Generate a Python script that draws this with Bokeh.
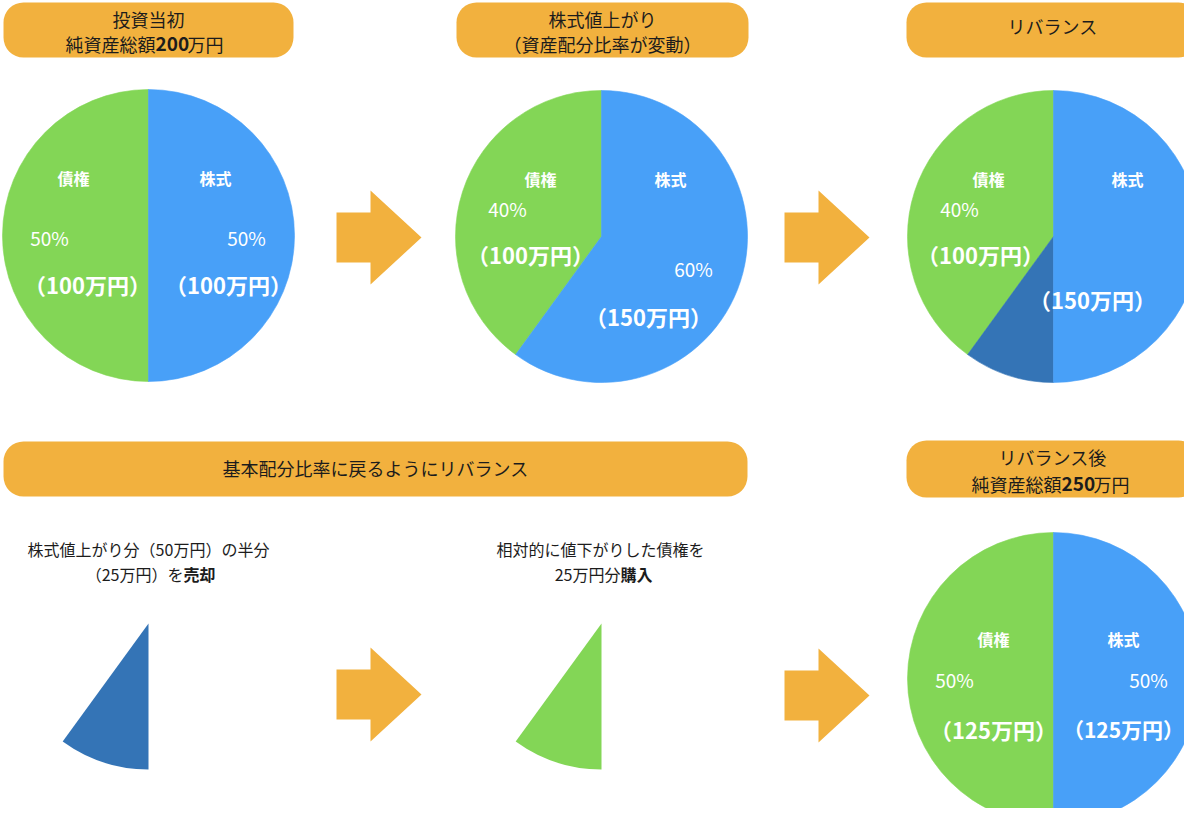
from bokeh.plotting import figure
from bokeh.models import Range1d
from bokeh.core.properties import value
from bokeh.embed import file_html
from bokeh.resources import INLINE
import numpy as np

# ---------------- data ----------------
stages = ["投資当初", "株式値上がり", "リバランス", "リバランス後"]
bond_values = [100, 100, 100, 125]        # 債権 (万円)
stock_keep_values = [100, 150, 125, 125]  # 株式 (万円) kept
stock_sell_values = [0, 0, 25, 0]         # 株式 part sold at rebalance
bond_pct = ["50%", "40%", "40%", "50%"]
stock_pct = ["50%", "60%", "", "50%"]
bond_amount = ["（100万円）", "（100万円）", "（100万円）", "（125万円）"]
stock_amount = ["（100万円）", "（150万円）", "（150万円）", "（125万円）"]
trade_amount = 25
trade_total = 250

GREEN = "#83D656"
BLUE = "#48A0F8"
DARK = "#3474B6"
ORANGE = "#F2B13E"
TEXT = "#1C1C1C"
FONT = value("Noto Sans CJK JP")

H = 824
def Y(py):
    return H - py

p = figure(width=1184, height=808, x_range=Range1d(0, 1184), y_range=Range1d(16, 824),
           output_backend="svg", toolbar_location=None, min_border=0,
           x_axis_type=None, y_axis_type=None)
p.grid.visible = False
p.outline_line_color = None
p.background_fill_color = "white"

# ---------------- header boxes ----------------
box_l = [3, 456, 906, 3, 906]
box_r = [293, 748, 1198, 747, 1198]
box_t = [2, 2, 2, 441, 440]
box_b = [57, 57, 57, 496, 497]
p.quad(left=box_l, right=box_r, top=[Y(v) for v in box_t], bottom=[Y(v) for v in box_b],
       fill_color=ORANGE, line_color=None, border_radius=20)

def txt(x, y, s, size, color=TEXT, bold=False, align="center"):
    p.text(x=[x], y=[Y(y)], text=[s], text_font=FONT, text_font_size=f"{size}px",
           text_color=color, text_align=align, text_baseline="middle",
           text_font_style="bold" if bold else "normal")

# box texts
txt(148, 18, "投資当初", 18)
txt(155, 43, "純資産総額", 18, align="right")
txt(155, 43, "200", 19, bold=True, align="left")
txt(187, 43, "万円", 18, align="left")

txt(602, 18, "株式値上がり", 18)
txt(602, 43, "（資産配分比率が変動）", 18)

txt(1052, 25, "リバランス", 18)

txt(375, 467, "基本配分比率に戻るようにリバランス", 18)

txt(1052, 456, "リバランス後", 18)
txt(1061, 483, "純資産総額", 18, align="right")
txt(1061, 483, "250", 19, bold=True, align="left")
txt(1093, 483, "万円", 18, align="left")

# ---------------- pies ----------------
pie_cx = [148, 601, 1053, 1053]
pie_cy = [235, 236, 236, 678]
R = 146

wx, wy, ws, we, wc = [], [], [], [], []
for i in range(4):
    vals = [bond_values[i], stock_sell_values[i], stock_keep_values[i]]
    cols = [GREEN, DARK, BLUE]
    total = sum(vals)
    a = np.pi / 2
    for v, c in zip(vals, cols):
        span = v / total * 2 * np.pi
        if v > 0:
            wx.append(pie_cx[i]); wy.append(Y(pie_cy[i]))
            ws.append(a); we.append(a + span); wc.append(c)
        a += span
p.wedge(x=wx, y=wy, radius=R, start_angle=ws, end_angle=we, direction="anticlock",
        fill_color=wc, line_color=wc, line_width=0.6)

# trade wedges (sold stocks / bought bonds)
tw_cx = [148, 601]
tw_cy = [623, 623]
tw_colors = [DARK, GREEN]
tw_start = np.pi / 2 + bond_values[2] / trade_total * 2 * np.pi
tw_end = tw_start + trade_amount / trade_total * 2 * np.pi
p.wedge(x=tw_cx, y=[Y(v) for v in tw_cy], radius=R, start_angle=tw_start, end_angle=tw_end,
        direction="anticlock", fill_color=tw_colors, line_color=None)

# ---------------- pie labels ----------------
W = "white"
LS, PS, AS = 16, 19, 22
# pie 1
txt(73, 177, "債権", LS, W, bold=True)
txt(215, 177, "株式", LS, W, bold=True)
txt(49, 237, bond_pct[0], PS, W)
txt(246, 237, stock_pct[0], PS, W)
txt(87, 283, bond_amount[0], AS, W, bold=True)
txt(228, 283, stock_amount[0], AS, W, bold=True)
# pie 2
txt(540, 178, "債権", LS, W, bold=True)
txt(670, 178, "株式", LS, W, bold=True)
txt(507, 208, bond_pct[1], PS, W)
txt(693, 268, stock_pct[1], PS, W)
txt(530, 253, bond_amount[1], AS, W, bold=True)
txt(648, 315, stock_amount[1], AS, W, bold=True)
# pie 3
txt(988, 178, "債権", LS, W, bold=True)
txt(1127, 178, "株式", LS, W, bold=True)
txt(959, 208, bond_pct[2], PS, W)
txt(980, 253, bond_amount[2], AS, W, bold=True)
txt(1092, 298, stock_amount[2], AS, W, bold=True)
# pie 4
txt(993, 638, "債権", LS, W, bold=True)
txt(1123, 638, "株式", LS, W, bold=True)
txt(954, 679, bond_pct[3], PS, W)
txt(1148, 679, stock_pct[3], PS, W)
txt(993, 728, bond_amount[3], AS, W, bold=True)
txt(1123, 728, stock_amount[3], 21, W, bold=True)

# ---------------- captions ----------------
txt(148, 548, "株式値上がり分（50万円）の半分", 16)
txt(183, 573, "（25万円）を", 16, align="right")
txt(183, 573, "売却", 16, bold=True, align="left")

txt(600, 548, "相対的に値下がりした債権を", 16)
txt(620, 573, "25万円分", 16, align="right")
txt(620, 573, "購入", 16, bold=True, align="left")

# ---------------- arrows ----------------
arrow_tips = [(421, 237), (869, 237), (421, 694), (869, 695)]
shape = [(-85, -25), (-51, -25), (-51, -47), (0, 0), (-51, 47), (-51, 25), (-85, 25)]
xs = [[tx + dx for dx, dy in shape] for tx, ty in arrow_tips]
ys = [[Y(ty + dy) for dx, dy in shape] for tx, ty in arrow_tips]
p.patches(xs=xs, ys=ys, fill_color=ORANGE, line_color=None)

open("out.html", "w").write(file_html(p, INLINE))
